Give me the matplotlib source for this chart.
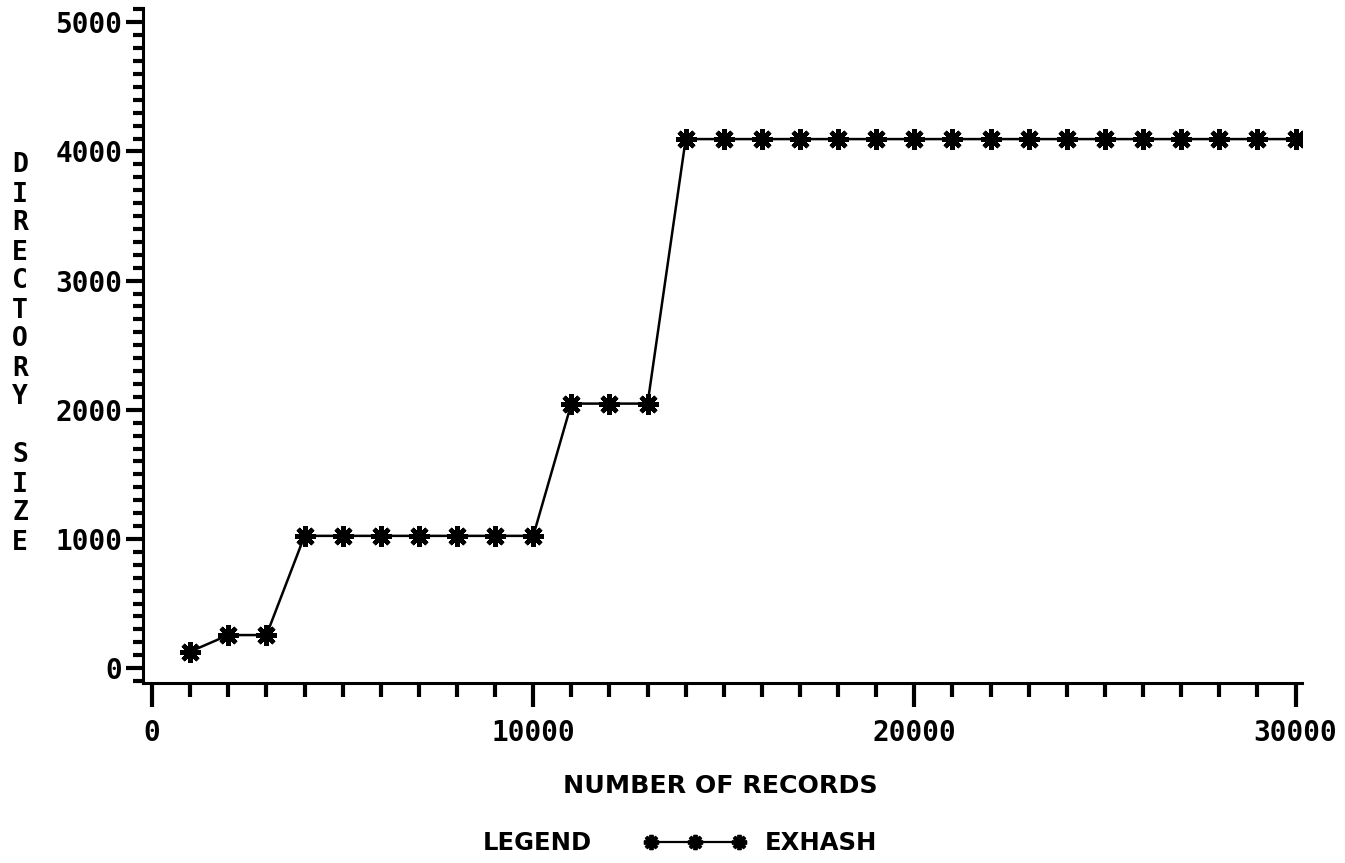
import matplotlib
matplotlib.use("Agg")
import matplotlib.pyplot as plt
from matplotlib.ticker import MultipleLocator, FixedLocator
from matplotlib.lines import Line2D

records = [1000, 2000, 3000, 4000, 5000, 6000, 7000, 8000, 9000, 10000,
           11000, 12000, 13000, 14000, 15000, 16000, 17000, 18000, 19000, 20000,
           21000, 22000, 23000, 24000, 25000, 26000, 27000, 28000, 29000, 30000]
dir_size = [128, 256, 256, 1024, 1024, 1024, 1024, 1024, 1024, 1024,
            2048, 2048, 2048, 4096, 4096, 4096, 4096, 4096, 4096, 4096,
            4096, 4096, 4096, 4096, 4096, 4096, 4096, 4096, 4096, 4096]
x_ticks = [0, 10000, 20000, 30000]
y_ticks = [0, 1000, 2000, 3000, 4000, 5000]
series_name = "EXHASH"

fig = plt.figure(figsize=(13.45, 8.63), dpi=100)
ax = fig.add_axes([0.1063, 0.2086, 0.862, 0.782])

ast = (8, 2, 0)
ax.plot(records, dir_size, color="black", lw=1.8, marker=ast, ms=15, mew=3.2)

ax.set_xlim(-240, 30180)
ax.set_ylim(-115, 5110)
ax.spines["top"].set_visible(False)
ax.spines["right"].set_visible(False)
for s in ["left", "bottom"]:
    ax.spines[s].set_linewidth(2.2)

ax.xaxis.set_major_locator(FixedLocator(x_ticks))
ax.xaxis.set_minor_locator(MultipleLocator(1000))
ax.yaxis.set_major_locator(FixedLocator(y_ticks))
ax.yaxis.set_minor_locator(MultipleLocator(100))
ax.tick_params(axis="x", which="major", length=17, width=3, direction="out", pad=9)
ax.tick_params(axis="x", which="minor", length=10, width=3, direction="out")
ax.tick_params(axis="y", which="major", length=12, width=3, direction="out", pad=3)
ax.tick_params(axis="y", which="minor", length=7, width=3, direction="out")
tick_font = dict(family="DejaVu Sans Mono", weight="bold", size=20)
ax.set_xticklabels([str(v) for v in x_ticks], fontdict=tick_font)
ax.set_yticklabels([str(v) for v in y_ticks], fontdict=tick_font)

lab_font = dict(family="DejaVu Sans", size=17.5, weight="bold")
fig.text(720 / 1345, 1 - 786 / 863, "NUMBER OF RECORDS", ha="center", va="center",
         family="DejaVu Sans", size=18.2, weight="bold")
ylabel = "DIRECTORY SIZE"
fig.text(20 / 1345, 1 - 354 / 863, "\n".join(ylabel), ha="center", va="center",
         linespacing=1.15, family="DejaVu Sans Mono", weight="bold", size=19)

fig.text(537 / 1345, 1 - 843 / 863, "LEGEND", ha="center", va="center", **lab_font)
lx = [651 / 1345, 695 / 1345, 739 / 1345]
ly = [1 - 842 / 863] * 3
fig.add_artist(Line2D(lx, ly, transform=fig.transFigure, color="black", lw=1.6,
                      marker=ast, ms=11, mew=2.8))
fig.text(765 / 1345, 1 - 843 / 863, series_name, ha="left", va="center", **lab_font)

fig.savefig("out.png", dpi=100)
